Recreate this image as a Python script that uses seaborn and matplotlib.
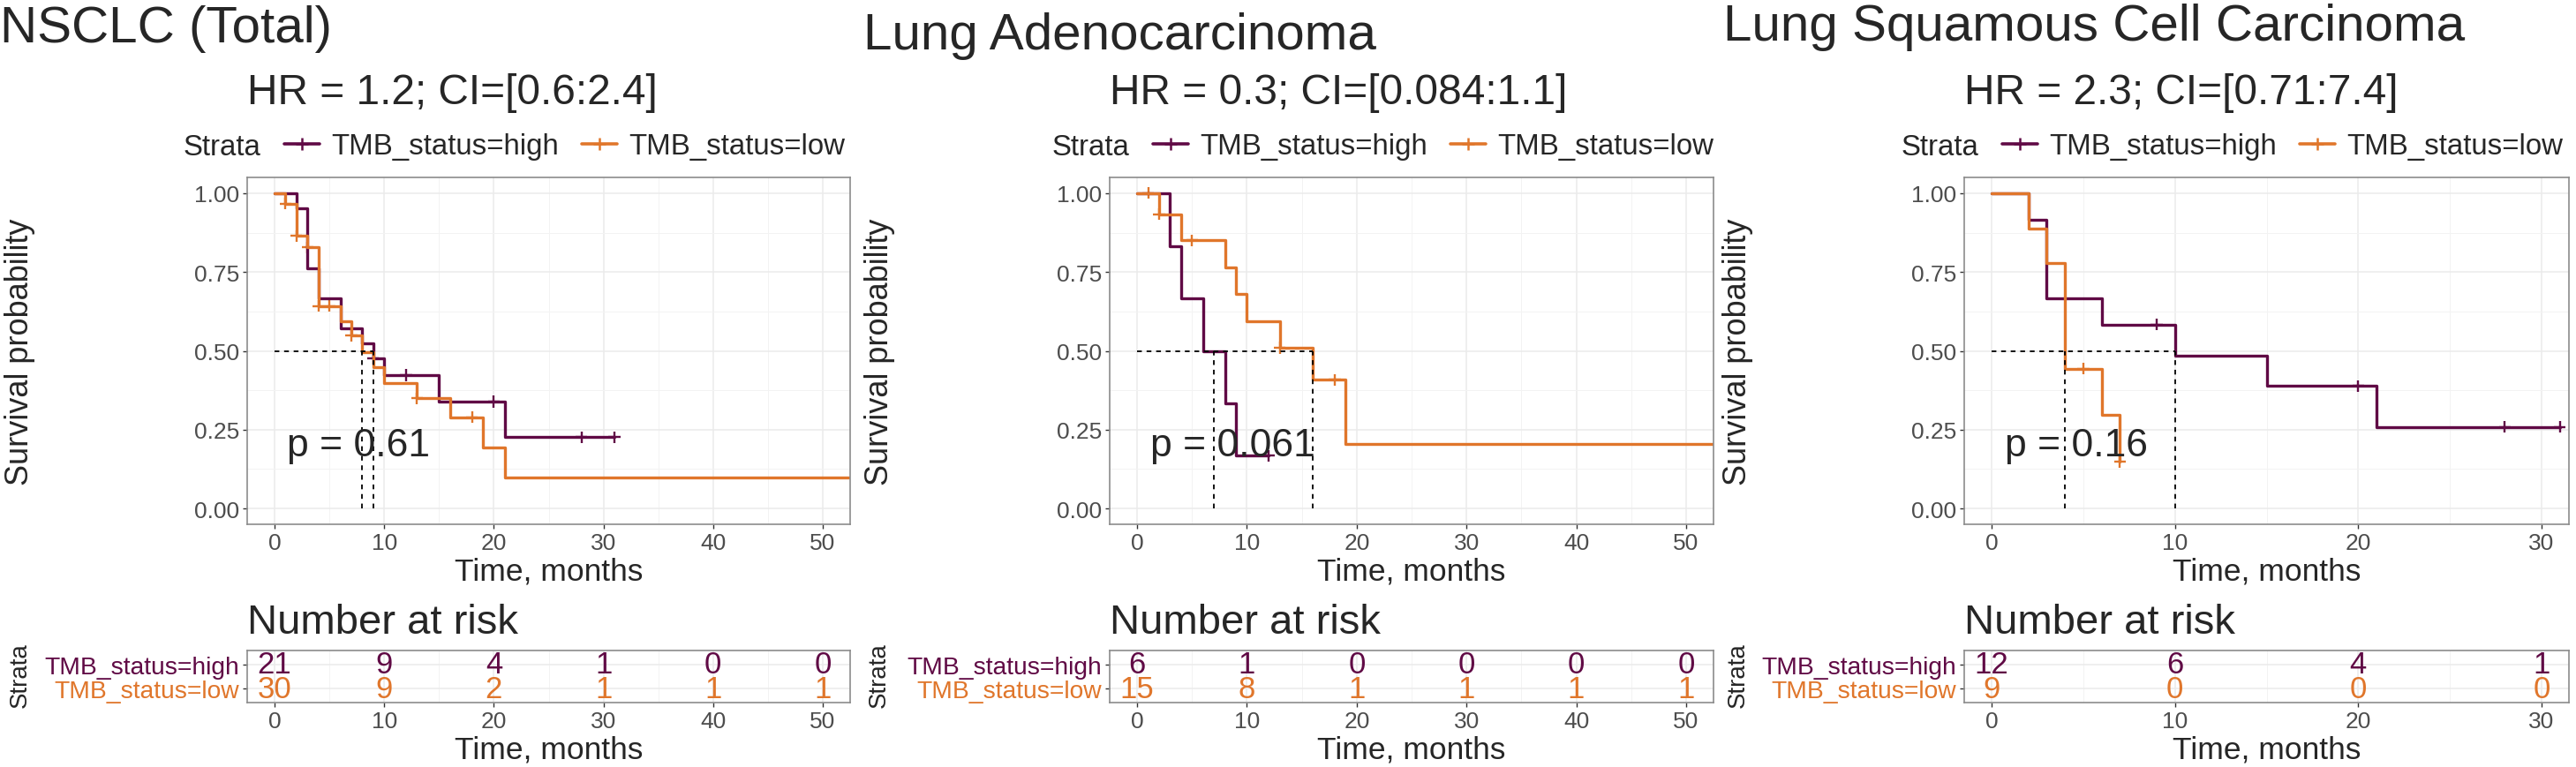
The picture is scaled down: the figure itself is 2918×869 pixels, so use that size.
import numpy as np
import pandas as pd
import matplotlib
matplotlib.use("Agg")
import matplotlib.pyplot as plt
from matplotlib.lines import Line2D
from matplotlib.ticker import MultipleLocator
import seaborn as sns

# ---------------- data ----------------
titles = ["NSCLC (Total)", "Lung Adenocarcinoma", "Lung Squamous Cell Carcinoma"]
hr_labels = ["HR = 1.2; CI=[0.6:2.4]", "HR = 0.3; CI=[0.084:1.1]", "HR = 2.3; CI=[0.71:7.4]"]
p_labels = ["p = 0.61", "p = 0.061", "p = 0.16"]
strata = ["TMB_status=high", "TMB_status=low"]

# NSCLC (Total)
nsclc_high_t = [0, 2, 3, 4, 6, 8, 9, 10, 15, 21, 31]
nsclc_high_s = [1.0, 0.952, 0.762, 0.667, 0.571, 0.524, 0.476, 0.423, 0.339, 0.226, 0.226]
nsclc_high_cens = [9, 12, 20, 28, 31]
nsclc_low_t = [0, 1, 2, 3, 4, 6, 7, 8, 9, 10, 13, 16, 19, 21, 55]
nsclc_low_s = [1.0, 0.967, 0.864, 0.828, 0.642, 0.595, 0.549, 0.495, 0.447, 0.397, 0.349, 0.290, 0.193, 0.097, 0.097]
nsclc_low_cens = [1, 2, 3, 4, 5, 7, 13, 18]
nsclc_medians = [8, 9]

# Lung Adenocarcinoma
luad_high_t = [0, 3, 4, 6, 8, 9, 12]
luad_high_s = [1.0, 0.833, 0.667, 0.5, 0.333, 0.167, 0.167]
luad_high_cens = [12]
luad_low_t = [0, 2, 4, 8, 9, 10, 13, 16, 19, 55]
luad_low_s = [1.0, 0.933, 0.85, 0.765, 0.680, 0.595, 0.510, 0.408, 0.204, 0.204]
luad_low_cens = [1, 2, 5, 13, 18]
luad_medians = [7, 16]

# Lung Squamous Cell Carcinoma
lusc_high_t = [0, 2, 3, 6, 10, 15, 21, 31]
lusc_high_s = [1.0, 0.917, 0.667, 0.583, 0.486, 0.389, 0.259, 0.259]
lusc_high_cens = [9, 20, 28, 31]
lusc_low_t = [0, 2, 3, 4, 6, 7]
lusc_low_s = [1.0, 0.889, 0.778, 0.444, 0.296, 0.148]
lusc_low_cens = [5, 7]
lusc_medians = [4, 10]

# number at risk
risk_times_50 = [0, 10, 20, 30, 40, 50]
risk_times_30 = [0, 10, 20, 30]
nsclc_risk_high = [21, 9, 4, 1, 0, 0]
nsclc_risk_low = [30, 9, 2, 1, 1, 1]
luad_risk_high = [6, 1, 0, 0, 0, 0]
luad_risk_low = [15, 8, 1, 1, 1, 1]
lusc_risk_high = [12, 6, 4, 1]
lusc_risk_low = [9, 0, 0, 0]

panels = [
    dict(high=(nsclc_high_t, nsclc_high_s, nsclc_high_cens), low=(nsclc_low_t, nsclc_low_s, nsclc_low_cens),
         med=nsclc_medians, rt=risk_times_50, rh=nsclc_risk_high, rl=nsclc_risk_low),
    dict(high=(luad_high_t, luad_high_s, luad_high_cens), low=(luad_low_t, luad_low_s, luad_low_cens),
         med=luad_medians, rt=risk_times_50, rh=luad_risk_high, rl=luad_risk_low),
    dict(high=(lusc_high_t, lusc_high_s, lusc_high_cens), low=(lusc_low_t, lusc_low_s, lusc_low_cens),
         med=lusc_medians, rt=risk_times_30, rh=lusc_risk_high, rl=lusc_risk_low),
]

# ---------------- style / layout ----------------
palette = {"TMB_status=high": "#600A45", "TMB_status=low": "#E0762B"}
W, H = 2918, 870

sns.set_style("white")
plt.rcParams["font.family"] = ["Liberation Sans", "DejaVu Sans"]

km_left = [280, 1257, 2225]
km_right = [963, 1941, 2910]
km_top, km_bottom = 202, 595
tab_top, tab_bottom = 738, 797
xlims = [(-2.5, 52.5), (-2.5, 52.5), (-1.5, 31.5)]
pval_x = [1.1, 1.2, 0.7]
title_x = [0, 978, 1952]
title_base = [48, 56, 46]
legend_cx = [556, 1540, 2502]
ylab_x = [23, 996, 1969]

TICK_FS = 19
AX_FS = 25.5


def fx(px):
    return px / W


def fy(py):
    return 1 - py / H


def surv_at(t, s, times):
    idx = np.searchsorted(t, times, side="right") - 1
    return np.asarray(s)[idx]


def style_axes(ax):
    for sp in ax.spines.values():
        sp.set_visible(True)
        sp.set_color("#8C8C8C")
        sp.set_linewidth(1.2)
    ax.grid(which="major", color="#EBEBEB", lw=1.1)
    ax.grid(which="minor", color="#F3F3F3", lw=0.7)
    ax.set_axisbelow(True)
    ax.tick_params(which="major", length=3.6, width=1, color="#333333",
                   labelcolor="#4D4D4D", labelsize=TICK_FS, pad=3,
                   left=True, bottom=True)
    ax.tick_params(which="minor", length=0)


fig = plt.figure(figsize=(W / 100, H / 100), dpi=100)

for i, p in enumerate(panels):
    l, r = km_left[i], km_right[i]
    ax = fig.add_axes([fx(l), fy(km_bottom), (r - l) / W, (km_bottom - km_top) / H])

    curves, cens = [], []
    for name, key in zip(strata, ["high", "low"]):
        t, s, c = p[key]
        curves.append(pd.DataFrame({"time": t, "surv": s, "strata": name}))
        cens.append(pd.DataFrame({"time": c, "surv": surv_at(t, s, c), "strata": name}))
    curves = pd.concat(curves, ignore_index=True)
    cens = pd.concat(cens, ignore_index=True)

    sns.lineplot(data=curves, x="time", y="surv", hue="strata", hue_order=strata,
                 palette=palette, drawstyle="steps-post", estimator=None, sort=False,
                 lw=2.4, legend=False, ax=ax)
    sns.scatterplot(data=cens, x="time", y="surv", hue="strata", hue_order=strata,
                    palette=palette, marker="+", s=90, linewidth=1.7, legend=False, ax=ax)

    # median survival lines
    med = p["med"]
    ax.plot([0, max(med)], [0.5, 0.5], ls=(0, (3, 3)), color="black", lw=1.3)
    for m in med:
        ax.plot([m, m], [0, 0.5], ls=(0, (3, 3)), color="black", lw=1.3)

    ax.text(pval_x[i], 0.2, p_labels[i], fontsize=32, ha="left", va="center")

    ax.set_xlim(*xlims[i])
    ax.set_ylim(-0.05, 1.05)
    ax.set_yticks([0, 0.25, 0.5, 0.75, 1.0])
    ax.set_yticklabels(["0.00", "0.25", "0.50", "0.75", "1.00"])
    ax.set_xticks(p["rt"])
    ax.xaxis.set_minor_locator(MultipleLocator(5))
    ax.yaxis.set_minor_locator(MultipleLocator(0.125))
    style_axes(ax)
    ax.set_xlabel("")
    ax.set_ylabel("")

    # texts around the plot
    fig.text(fx(title_x[i]), fy(title_base[i]), titles[i], fontsize=42, ha="left", va="baseline")
    fig.text(fx(l), fy(118), hr_labels[i], fontsize=34.5, ha="left", va="baseline")
    fig.text(fx(ylab_x[i]), fy((km_top + km_bottom) / 2), "Survival probability",
             fontsize=26, rotation=90, ha="center", va="center")
    fig.text(fx((l + r) / 2), fy(648), "Time, months", fontsize=AX_FS, ha="center", va="center")

    handles = [Line2D([], [], color="none")] + [
        Line2D([], [], color=palette[s_], lw=2.6, marker="+", ms=10, mew=1.8) for s_ in strata]
    ax.legend(handles, ["Strata"] + strata, ncol=3, loc="center",
              bbox_to_anchor=(fx(legend_cx[i]), fy(167)), bbox_transform=fig.transFigure,
              frameon=False, fontsize=23.8, handlelength=1.2, handletextpad=0.4,
              columnspacing=0.8)

    # risk table
    tab = fig.add_axes([fx(l), fy(tab_bottom), (r - l) / W, (tab_bottom - tab_top) / H])
    for row, key, name in [(1, "rh", strata[0]), (0, "rl", strata[1])]:
        for t_, n_ in zip(p["rt"], p[key]):
            tab.text(t_, row, str(n_), fontsize=25, color=palette[name], ha="center", va="center")
    tab.set_xlim(*xlims[i])
    tab.set_ylim(-0.56, 1.56)
    tab.set_xticks(p["rt"])
    tab.xaxis.set_minor_locator(MultipleLocator(5))
    tab.set_yticks([1, 0])
    tab.set_yticklabels(strata)
    style_axes(tab)
    tab.tick_params(axis="y", labelsize=20.3)
    for lab, name in zip(tab.get_yticklabels(), strata):
        lab.set_color(palette[name])
    fig.text(fx(l), fy(718), "Number at risk", fontsize=34, ha="left", va="baseline")
    fig.text(fx(ylab_x[i]), fy((tab_top + tab_bottom) / 2 - 2), "Strata",
             fontsize=20, rotation=90, ha="center", va="center")
    fig.text(fx((l + r) / 2), fy(850), "Time, months", fontsize=AX_FS, ha="center", va="center")

fig.savefig("out.png", dpi=100)
